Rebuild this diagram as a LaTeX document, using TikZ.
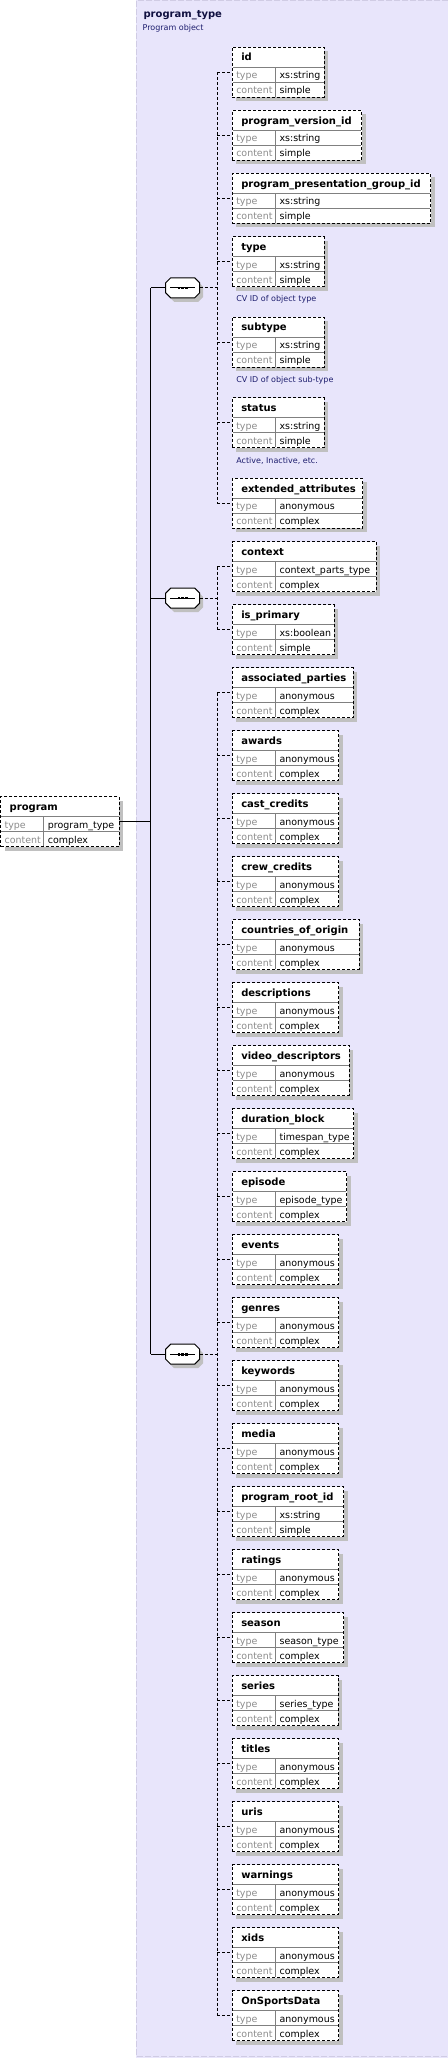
\documentclass[tikz,border=0pt]{standalone}
\usepackage{fontspec}
\setmainfont{DejaVu Sans}
\usetikzlibrary{calc}
\definecolor{bglav}{HTML}{E8E5FB}
\definecolor{bgedge}{HTML}{D0CCE4}
\definecolor{shadowgray}{HTML}{C0C0C0}
\definecolor{linegray}{HTML}{808080}
\definecolor{labelgray}{HTML}{8C8C8C}
\definecolor{titlenavy}{HTML}{101040}
\definecolor{descblue}{HTML}{1E1E6E}
\tikzset{
  elembox/.style={rectangle, draw=black, line width=0.75pt, dash pattern=on 2.25pt off 1.5pt, fill=white, minimum height=37.5pt, inner sep=0pt, outer sep=0pt},
  innerline/.style={draw=linegray, line width=0.75pt},
  hdr/.style={font=\fontsize{7.5}{9}\selectfont\bfseries, inner sep=0pt, anchor=base west},
  lbl/.style={font=\fontsize{7.1}{9}\selectfont, text=labelgray, inner sep=0pt, anchor=base west},
  val/.style={font=\fontsize{7.1}{9}\selectfont, inner sep=0pt, anchor=base west},
  desc/.style={font=\fontsize{6}{8}\selectfont, text=descblue, inner sep=0pt, anchor=base west},
  dline/.style={line width=0.75pt, dash pattern=on 2.25pt off 1.5pt},
  sline/.style={line width=0.75pt},
  seqbox/.style={rectangle, draw=none, minimum width=25.5pt, minimum height=15pt, inner sep=0pt, outer sep=0pt},
}
% #1 name, #2 left, #3 top, #4 width, #5 header, #6 type, #7 content
\newcommand\xelem[7]{%
  \fill[shadowgray] (#2+4,#3+4) rectangle (#2+#4+4,#3+54);
  \node[elembox, minimum width=#4*0.75pt, anchor=north west] (#1) at (#2,#3) {};
  \draw[innerline] (#2+0.5,#3+20) -- (#2+#4-0.5,#3+20);
  \draw[innerline] (#2+0.5,#3+35) -- (#2+#4-0.5,#3+35);
  \draw[innerline] (#2+43,#3+20) -- (#2+43,#3+49.5);
  \node[hdr] (#1-h) at (#2+8.7,#3+13.7) {#5};
  \node[lbl] (#1-tl) at (#2+3.7,#3+31.4) {type};
  \node[val] (#1-tv) at (#2+47,#3+31.4) {#6};
  \node[lbl] (#1-cl) at (#2+3.7,#3+46.4) {content};
  \node[val] (#1-cv) at (#2+47,#3+46.4) {#7};
}
% #1 name, #2 cx, #3 cy
\newcommand\xseq[3]{%
  \fill[shadowgray] (#2-12+3.5,#3-10+4) -- (#2+12+3.5,#3-10+4) -- (#2+17+3.5,#3-5+4) -- (#2+17+3.5,#3+5+4) -- (#2+12+3.5,#3+10+4) -- (#2-12+3.5,#3+10+4) -- (#2-17+3.5,#3+5+4) -- (#2-17+3.5,#3-5+4) -- cycle;
  \node[seqbox] (#1) at (#2,#3) {};
  \draw[sline, fill=white] (#2-12,#3-10) -- (#2+12,#3-10) -- (#2+17,#3-5) -- (#2+17,#3+5) -- (#2+12,#3+10) -- (#2-12,#3+10) -- (#2-17,#3+5) -- (#2-17,#3-5) -- cycle;
  \draw[sline] (#2-12.5,#3) -- (#2+12.5,#3);
  \fill (#2-5.1,#3-1.3) rectangle (#2-2.5,#3+1.3);
  \fill (#2-1.3,#3-1.3) rectangle (#2+1.3,#3+1.3);
  \fill (#2+2.5,#3-1.3) rectangle (#2+5.1,#3+1.3);
}
\begin{document}
\begin{tikzpicture}[x=0.75pt,y=-0.75pt]
\useasboundingbox (0,0) rectangle (448,2058);
% background of the complex type
\fill[bglav] (136,0) rectangle (448,2058);
\draw[bgedge, line width=0.75pt, dash pattern=on 4.5pt off 1.5pt] (448,0.5) -- (136.5,0.5) -- (136.5,2056.5) -- (448,2056.5);
\node[hdr, text=titlenavy] (title) at (143.3,17.5) {program\_type};
\node[desc] (titledesc) at (142.3,30.8) {Program object};

% root element
\xelem{root}{0.7}{796.7}{118.3}{program}{program\_type}{complex}

% compositors
\xseq{seqA}{182.7}{287.8}
\xseq{seqB}{182.7}{598.1}
\xseq{seqC}{182.7}{1354.2}

% sequence 1
\xelem{eid}{232.3}{47.3}{92}{id}{xs:string}{simple}
\xelem{epvi}{232.3}{110.5}{129.4}{program\_version\_id}{xs:string}{simple}
\xelem{eppgi}{232.3}{173.5}{198.4}{program\_presentation\_group\_id}{xs:string}{simple}
\xelem{etype}{232.3}{236.6}{92}{type}{xs:string}{simple}
\node[desc] (dtype) at (236,301.9) {CV ID of object type};
\xelem{esubtype}{232.3}{317.2}{92}{subtype}{xs:string}{simple}
\node[desc] (dsubtype) at (236,382.5) {CV ID of object sub-type};
\xelem{estatus}{232.3}{397.9}{92}{status}{xs:string}{simple}
\node[desc] (dstatus) at (236,463.3) {Active, Inactive, etc.};
\xelem{eext}{232.3}{478.4}{130.4}{extended\_attributes}{anonymous}{complex}

% sequence 2
\xelem{econtext}{232.3}{541.6}{143.7}{context}{context\_parts\_type}{complex}
\xelem{eprimary}{232.3}{604.6}{102}{is\_primary}{xs:boolean}{simple}

% sequence 3
\xelem{eassoc}{232.3}{667.7}{121}{associated\_parties}{anonymous}{complex}
\xelem{eawards}{232.3}{730.7}{106.4}{awards}{anonymous}{complex}
\xelem{ecast}{232.3}{793.7}{106.4}{cast\_credits}{anonymous}{complex}
\xelem{ecrew}{232.3}{856.7}{106.4}{crew\_credits}{anonymous}{complex}
\xelem{ecountries}{232.3}{919.7}{126.7}{countries\_of\_origin}{anonymous}{complex}
\xelem{edescriptions}{232.3}{982.7}{106.4}{descriptions}{anonymous}{complex}
\xelem{evideo}{232.3}{1045.7}{116.7}{video\_descriptors}{anonymous}{complex}
\xelem{eduration}{232.3}{1108.7}{121.4}{duration\_block}{timespan\_type}{complex}
\xelem{eepisode}{232.3}{1171.7}{114.4}{episode}{episode\_type}{complex}
\xelem{eevents}{232.3}{1234.7}{106.4}{events}{anonymous}{complex}
\xelem{egenres}{232.3}{1297.7}{106.4}{genres}{anonymous}{complex}
\xelem{ekeywords}{232.3}{1360.7}{106.4}{keywords}{anonymous}{complex}
\xelem{emedia}{232.3}{1423.7}{106.4}{media}{anonymous}{complex}
\xelem{erootid}{232.3}{1486.7}{111.4}{program\_root\_id}{xs:string}{simple}
\xelem{eratings}{232.3}{1549.7}{106.4}{ratings}{anonymous}{complex}
\xelem{eseason}{232.3}{1612.7}{111.4}{season}{season\_type}{complex}
\xelem{eseries}{232.3}{1675.7}{105.7}{series}{series\_type}{complex}
\xelem{etitles}{232.3}{1738.7}{106.4}{titles}{anonymous}{complex}
\xelem{euris}{232.3}{1801.7}{106.4}{uris}{anonymous}{complex}
\xelem{ewarnings}{232.3}{1864.7}{106.4}{warnings}{anonymous}{complex}
\xelem{exids}{232.3}{1927.7}{106.4}{xids}{anonymous}{complex}
\xelem{esports}{232.3}{1990.7}{106.4}{OnSportsData}{anonymous}{complex}

% trunk: root to compositors
\coordinate (trunk) at (150.7,821.7);
\draw[sline] (root.east) -- (trunk);
\draw[sline] (trunk |- seqA.west) -- (trunk |- seqC.west);
\foreach \s in {seqA,seqB,seqC} \draw[sline] (trunk |- \s.west) -- (\s.west);

% junctions of each sequence
\coordinate (vA) at (217.3,287.8);
\coordinate (vB) at (217.3,598.1);
\coordinate (vC) at (217.3,1354.2);
\draw[dline] (seqA.east) -- (vA);
\draw[dline] (seqB.east) -- (vB);
\draw[dline] (seqC.east) -- (vC);
\draw[dline] (vA |- eid.west) -- (vA |- eext.west);
\draw[dline] (vB |- econtext.west) -- (vB |- eprimary.west);
\draw[dline] (vC |- eassoc.west) -- (vC |- esports.west);
\foreach \e in {eid,epvi,eppgi,etype,esubtype,estatus,eext} \draw[dline] (vA |- \e.west) -- (\e.west);
\foreach \e in {econtext,eprimary} \draw[dline] (vB |- \e.west) -- (\e.west);
\foreach \e in {eassoc,eawards,ecast,ecrew,ecountries,edescriptions,evideo,eduration,eepisode,eevents,egenres,ekeywords,emedia,erootid,eratings,eseason,eseries,etitles,euris,ewarnings,exids,esports} \draw[dline] (vC |- \e.west) -- (\e.west);
\end{tikzpicture}
\end{document}
